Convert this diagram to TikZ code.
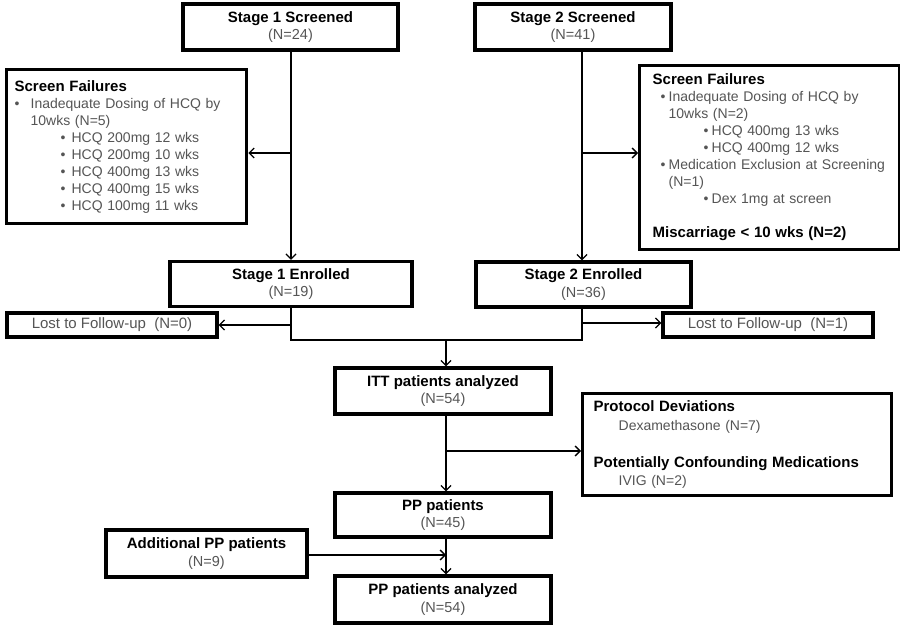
\documentclass[tikz,border=0pt]{standalone}
\usepackage{fontspec}
\setmainfont{Liberation Sans}
\usetikzlibrary{arrows.meta}
\definecolor{tg}{RGB}{85,85,85}
\newcommand{\bt}[1]{{\fontsize{15}{17.5}\selectfont\bfseries\color{black}#1}}
\newcommand{\blt}[1]{\makebox[#1][l]{\textbullet}}
\begin{document}
\begin{tikzpicture}[x=1pt,y=-1pt,
  box/.style={draw=black, line width=3.3pt, fill=white, inner sep=0pt, align=center,
    text=tg, font=\fontsize{14.5}{17.5}\selectfont},
  listbox/.style={draw=black, line width=3.3pt, fill=white, inner ysep=0pt, align=left,
    text=tg, font=\fontsize{14}{17}\selectfont, anchor=north west},
  lostbox/.style={draw=black, line width=3.3pt, fill=white, inner sep=0pt, align=center,
    text=tg, font=\fontsize{15}{17}\selectfont},
  conn/.style={line width=1.4pt},
  arr/.style={conn, -{Straight Barb[length=5pt,width=10pt,line width=1.3pt]}},
]
\useasboundingbox (0,0) rectangle (900,631);

% main boxes
\node[box, minimum width=215pt, minimum height=46pt] (s1) at (290.5,27) {\bt{Stage 1 Screened}\\(N=24)};
\node[box, minimum width=196pt, minimum height=46pt] (s2) at (573,27) {\bt{Stage 2 Screened}\\(N=41)};
\node[box, minimum width=242pt, minimum height=45pt] (e1) at (291,284) {\bt{Stage 1 Enrolled}\\(N=19)};
\node[box, minimum width=215pt, minimum height=45pt] (e2) at (583.5,284.5) {\bt{Stage 2 Enrolled}\\(N=36)};
\node[box, minimum width=216pt, minimum height=46pt] (itt) at (443,391) {\bt{ITT patients analyzed}\\(N=54)};
\node[box, minimum width=216pt, minimum height=44pt] (pp) at (443,515) {\bt{PP patients}\\(N=45)};
\node[box, minimum width=216pt, minimum height=47pt] (ppa) at (443,599.5) {\bt{PP patients analyzed}\\(N=54)};
\node[box, minimum width=201pt, minimum height=47pt] (add) at (206.5,553.5) {\bt{Additional PP patients}\\(N=9)};

% lost to follow-up
\node[lostbox, minimum width=210pt, minimum height=24pt] (lf1) at (112,325) {\raisebox{-2pt}{Lost to Follow-up\ \ (N=0)}};
\node[lostbox, minimum width=210pt, minimum height=24pt] (lf2) at (768,325) {\raisebox{-2pt}{Lost to Follow-up\ \ (N=1)}};

% screen failures left
\node[listbox, inner xsep=8pt, text width=224pt, minimum height=154pt] (sf1) at (5,68) {%
\bt{Screen Failures}\\
\blt{16pt}Inadequate Dosing of HCQ by\\
\hspace*{16pt}10wks (N=5)\\
\hspace*{46pt}\blt{11pt}HCQ 200mg 12 wks\\
\hspace*{46pt}\blt{11pt}HCQ 200mg 10 wks\\
\hspace*{46pt}\blt{11pt}HCQ 400mg 13 wks\\
\hspace*{46pt}\blt{11pt}HCQ 400mg 15 wks\\
\hspace*{46pt}\blt{11pt}HCQ 100mg 11 wks};

% screen failures right
\node[listbox, inner xsep=13pt, text width=234pt, minimum height=184pt] (sf2) at (638,64) {%
\bt{Screen Failures}\\
\hspace*{8pt}\blt{8pt}Inadequate Dosing of HCQ by\\
\hspace*{16pt}10wks (N=2)\\
\hspace*{51pt}\blt{8pt}HCQ 400mg 13 wks\\
\hspace*{51pt}\blt{8pt}HCQ 400mg 12 wks\\
\hspace*{8pt}\blt{8pt}Medication Exclusion at Screening\\
\hspace*{16pt}(N=1)\\
\hspace*{51pt}\blt{8pt}Dex 1mg at screen\\
\mbox{}\\
\bt{Miscarriage < 10 wks (N=2)}};

% protocol deviations
\node[listbox, inner xsep=11pt, text width=287pt, minimum height=102pt,
  font=\fontsize{14}{18.5}\selectfont] (prot) at (581,392) {%
\bt{Protocol Deviations}\\
\hspace*{25pt}Dexamethasone (N=7)\\
\mbox{}\\
\bt{Potentially Confounding Medications}\\
\hspace*{25pt}IVIG (N=2)};

% connector coordinates
\coordinate (c1) at (291,0);
\coordinate (c2) at (582,0);
\coordinate (j1) at (291,153);
\coordinate (j2) at (582,153);
\coordinate (l1) at (291,325);
\coordinate (l2) at (582,323);
\coordinate (m) at (446,340);
\coordinate (p) at (446,451);
\coordinate (a) at (446,555);

% connectors
\draw[arr] (s1.south -| c1) -- (e1.north -| c1);
\draw[arr] (s2.south -| c2) -- (e2.north -| c2);
\draw[arr] (j1) -- (j1 -| sf1.east);
\draw[arr] (j2) -- (j2 -| sf2.west);
\draw[arr] (l1) -- (l1 -| lf1.east);
\draw[arr] (l2) -- (l2 -| lf2.west);
\draw[conn] (e1.south -| c1) |- (c2 |- m) -- (e2.south -| c2);
\draw[arr] (m) -- (itt.north -| m);
\draw[arr] (itt.south -| p) -- (pp.north -| p);
\draw[arr] (p) -- (p -| prot.west);
\draw[arr] (pp.south -| p) -- (ppa.north -| p);
\draw[arr] (add.east |- a) -- (a);
\end{tikzpicture}
\end{document}
